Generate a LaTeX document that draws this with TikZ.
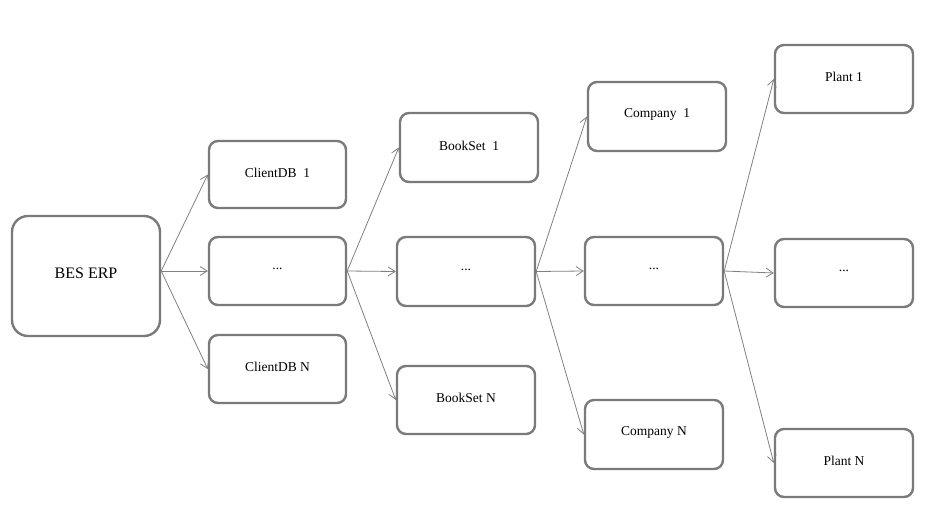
\documentclass[tikz,border=0pt]{standalone}
\usepackage{fontspec}
\setmainfont{Liberation Serif}
\usetikzlibrary{arrows.meta}
\begin{document}
\begin{tikzpicture}[x=1pt,y=-1pt,
  box/.style={draw=black!52, line width=2.4pt, rounded corners=9pt, inner sep=0pt},
  conn/.style={draw=black!50, line width=0.8pt, -{Straight Barb[length=7pt,width=9pt]}},
  lbl/.style={font=\fontsize{13.5}{15}\selectfont}]
\useasboundingbox (0,0) rectangle (925,514);
\newcommand\bx[6]{\node[box, minimum width=#4-#2, minimum height=#5-#3] (#1) at ({(#2+#4)/2},{(#3+#5)/2}) {};\node[lbl] at ([yshift=2pt]#1.center) {#6};}
\node[box, rounded corners=16pt, minimum width=148, minimum height=120] (erp) at (86,276) {};
\node[font=\fontsize{16}{18}\selectfont] at (86,273) {BES ERP};
\coordinate (erpo) at ([yshift=5pt]erp.east);
\bx{c1}{209}{141}{346}{208}{ClientDB\ \ 1}
\bx{cd}{209}{237}{346}{305}{...}
\bx{cn}{209}{335}{346}{403}{ClientDB N}
\bx{b1}{400}{113}{538}{182}{BookSet\ \ 1}
\bx{bd}{397}{237}{535}{306}{...}
\bx{bn}{397}{366}{535}{434}{BookSet N}
\bx{k1}{588}{82}{726}{151}{Company\ \ 1}
\bx{kd}{585}{237}{723}{305}{...}
\bx{kn}{585}{400}{723}{469}{Company N}
\bx{p1}{775}{45}{913}{113}{Plant 1}
\bx{pd}{775}{239}{913}{307}{...}
\bx{pn}{775}{429}{913}{497}{Plant N}
\draw[conn] (erpo) -- (c1.west);
\draw[conn] (erpo) -- (cd.west);
\draw[conn] (erpo) -- (cn.west);
\draw[conn] (cd.east) -- (b1.west);
\draw[conn] (cd.east) -- (bd.west);
\draw[conn] (cd.east) -- (bn.west);
\draw[conn] (bd.east) -- (k1.west);
\draw[conn] (bd.east) -- (kd.west);
\draw[conn] (bd.east) -- (kn.west);
\draw[conn] (kd.east) -- (p1.west);
\draw[conn] (kd.east) -- (pd.west);
\draw[conn] (kd.east) -- (pn.west);
\end{tikzpicture}
\end{document}
